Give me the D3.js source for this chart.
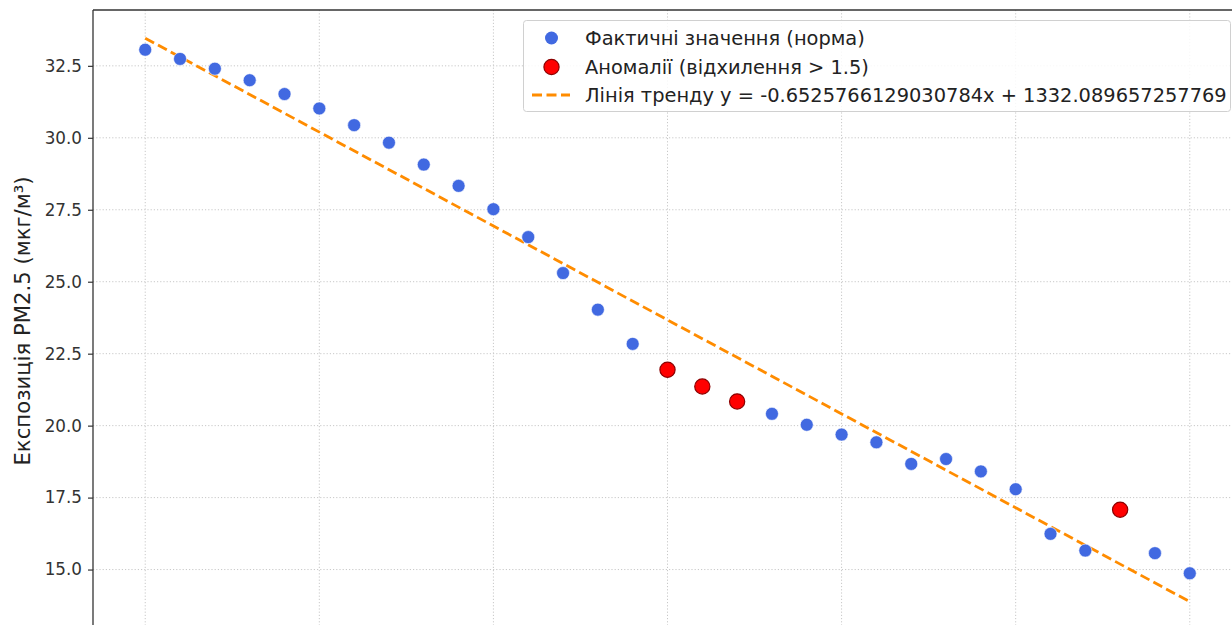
<!DOCTYPE html>
<html><head><meta charset="utf-8">
<script src="https://cdn.jsdelivr.net/npm/d3@7"></script>
<style>body{margin:0;background:#fff;} svg{display:block;font-family:"DejaVu Sans",sans-serif;}</style>
</head><body>
<svg id="chart" width="1232" height="625"></svg>
<script>
const years = d3.range(1990, 2021);
const values = [33.06,32.74,32.40,32.00,31.52,31.02,30.44,29.83,29.07,28.33,
  27.52,26.55,25.30,24.03,22.84,21.94,21.36,20.84,20.41,20.03,
  19.69,19.42,18.67,18.84,18.41,17.79,16.24,15.66,17.08,15.57,14.87];
const anomalyYears = [2005, 2006, 2007, 2018];
const slope = -0.6525766129030784, intercept = 1332.089657257769;
const yTicks = [15.0, 17.5, 20.0, 22.5, 25.0, 27.5, 30.0, 32.5];
const xTicks = [1990, 1995, 2000, 2005, 2010, 2015, 2020];
const legendLabels = ["Фактичні значення (норма)", "Аномалії (відхилення > 1.5)",
  "Лінія тренду y = -0.6525766129030784x + 1332.089657257769"];
const yLabel = "Експозиція PM2.5 (мкг/м³)";

const svg = d3.select("#chart");
const L = 93, T = 10, R = 1242, B = 630;
const x = d3.scaleLinear().domain([1988.5, 2021.5]).range([L, R]);
const y = d3.scaleLinear().domain([12.9, 34.44]).range([B, T]);

const data = years.map((yr, i) => ({yr, v: values[i], anom: anomalyYears.includes(yr)}));

// grid
const g = svg.append("g");
g.selectAll(".gx").data(xTicks).join("line")
  .attr("x1", d => x(d)).attr("x2", d => x(d)).attr("y1", T).attr("y2", B)
  .attr("stroke", "#c8c8c8").attr("stroke-width", 1).attr("stroke-dasharray", "1.2,2");
g.selectAll(".gy").data(yTicks).join("line")
  .attr("y1", d => y(d)).attr("y2", d => y(d)).attr("x1", L).attr("x2", R)
  .attr("stroke", "#c8c8c8").attr("stroke-width", 1).attr("stroke-dasharray", "1.2,2");

// trend line
const line = d3.line().x(d => x(d)).y(d => y(slope * d + intercept));
svg.append("path").datum([1990, 2020]).attr("d", line)
  .attr("fill", "none").attr("stroke", "#FF8C00").attr("stroke-width", 2.8)
  .attr("stroke-dasharray", "10,4.5");

// points
svg.selectAll(".pt").data(data.filter(d => !d.anom)).join("circle")
  .attr("cx", d => x(d.yr)).attr("cy", d => y(d.v)).attr("r", 6.5)
  .attr("fill", "#4169E1").attr("stroke", "#ffffff").attr("stroke-width", 0.6);
svg.selectAll(".an").data(data.filter(d => d.anom)).join("circle")
  .attr("cx", d => x(d.yr)).attr("cy", d => y(d.v)).attr("r", 7.6)
  .attr("fill", "#FF0000").attr("stroke", "#8B0000").attr("stroke-width", 1.2);

// y axis
const yAxis = d3.axisLeft(y).tickValues(yTicks).tickFormat(d3.format(".1f")).tickSize(5).tickPadding(6);
const ya = svg.append("g").attr("transform", `translate(${L},0)`).call(yAxis);
ya.select(".domain").remove();
ya.selectAll("text").attr("font-size", 16.8).attr("fill", "#333").attr("font-family", "DejaVu Sans");
ya.selectAll("line").attr("stroke", "#333").attr("stroke-width", 1.2);

// spines
svg.append("line").attr("x1", L).attr("x2", L).attr("y1", T).attr("y2", B).attr("stroke", "#333").attr("stroke-width", 1.3);
svg.append("line").attr("x1", L).attr("x2", R).attr("y1", T).attr("y2", T).attr("stroke", "#333").attr("stroke-width", 1.3);

// y label
svg.append("text").attr("transform", `translate(29.5,321) rotate(-90)`)
  .attr("text-anchor", "middle").attr("font-size", 21.2).attr("fill", "#222").text(yLabel);

// legend
const lg = svg.append("g");
lg.append("rect").attr("x", 523.5).attr("y", 20.5).attr("width", 707).attr("height", 91).attr("rx", 3)
  .attr("fill", "#fff").attr("fill-opacity", 0.85).attr("stroke", "#d0d0d0").attr("stroke-width", 1);
const ly = [38, 67, 95];
lg.append("circle").attr("cx", 551.5).attr("cy", ly[0]).attr("r", 6.5).attr("fill", "#4169E1");
lg.append("circle").attr("cx", 551.5).attr("cy", ly[1]).attr("r", 7.6).attr("fill", "#FF0000").attr("stroke", "#8B0000").attr("stroke-width", 1.2);
lg.append("line").attr("x1", 532).attr("x2", 570).attr("y1", ly[2]).attr("y2", ly[2])
  .attr("stroke", "#FF8C00").attr("stroke-width", 2.8).attr("stroke-dasharray", "10,4.5");
lg.selectAll(".lt").data(legendLabels).join("text")
  .attr("x", 585).attr("y", (d, i) => ly[i] + 6.5).attr("font-size", 19.4).attr("fill", "#222").text(d => d);
</script>
</body></html>
